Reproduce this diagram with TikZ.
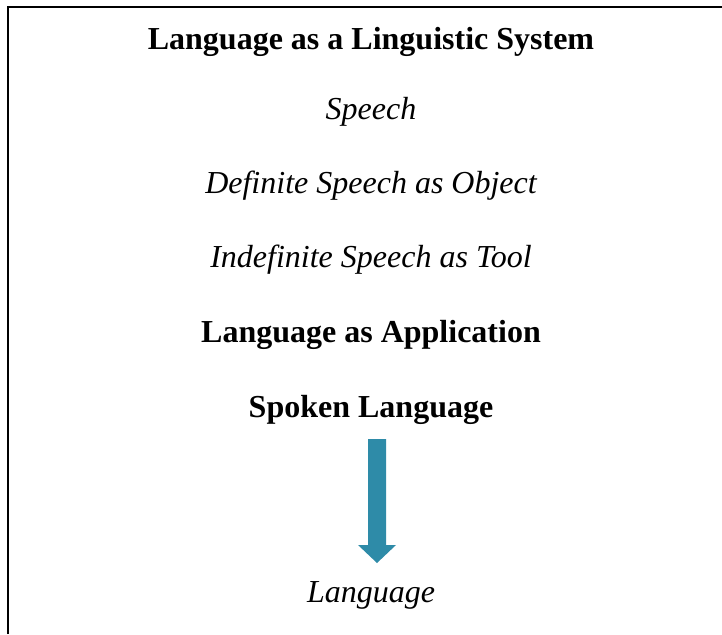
\documentclass[tikz,border=0pt]{standalone}
\usepackage{fontspec}
\setmainfont{Liberation Serif}
\definecolor{arrowteal}{RGB}{46,139,168}
\begin{document}
\begin{tikzpicture}[x=1pt,y=-1pt,
  lbl/.style={anchor=base,inner sep=0pt,font=\fontsize{32}{36}\selectfont},
  bld/.style={lbl,font=\fontsize{32}{36}\selectfont\bfseries},
  itl/.style={lbl,font=\fontsize{32}{36}\selectfont\itshape}]
\useasboundingbox (0,0) rectangle (722,634);
\draw[line width=2.4pt] (8,634) -- (8,7) -- (722,7);
\node[bld] (t1) at (371,49) {Language as a Linguistic System};
\node[itl] (t2) at (371,119) {Speech};
\node[itl] (t3) at (371,193) {Definite Speech as Object};
\node[itl] (t4) at (371,267) {Indefinite Speech as Tool};
\node[bld] (t5) at (371,342) {Language as Application};
\node[bld] (t6) at (371,417) {Spoken Language};
\node[itl] (t7) at (371,602) {Language};
\fill[arrowteal] (368,439) -- (386,439) -- (386,545) -- (396,545) -- (377,563) -- (358,545) -- (368,545) -- cycle;
\end{tikzpicture}
\end{document}
